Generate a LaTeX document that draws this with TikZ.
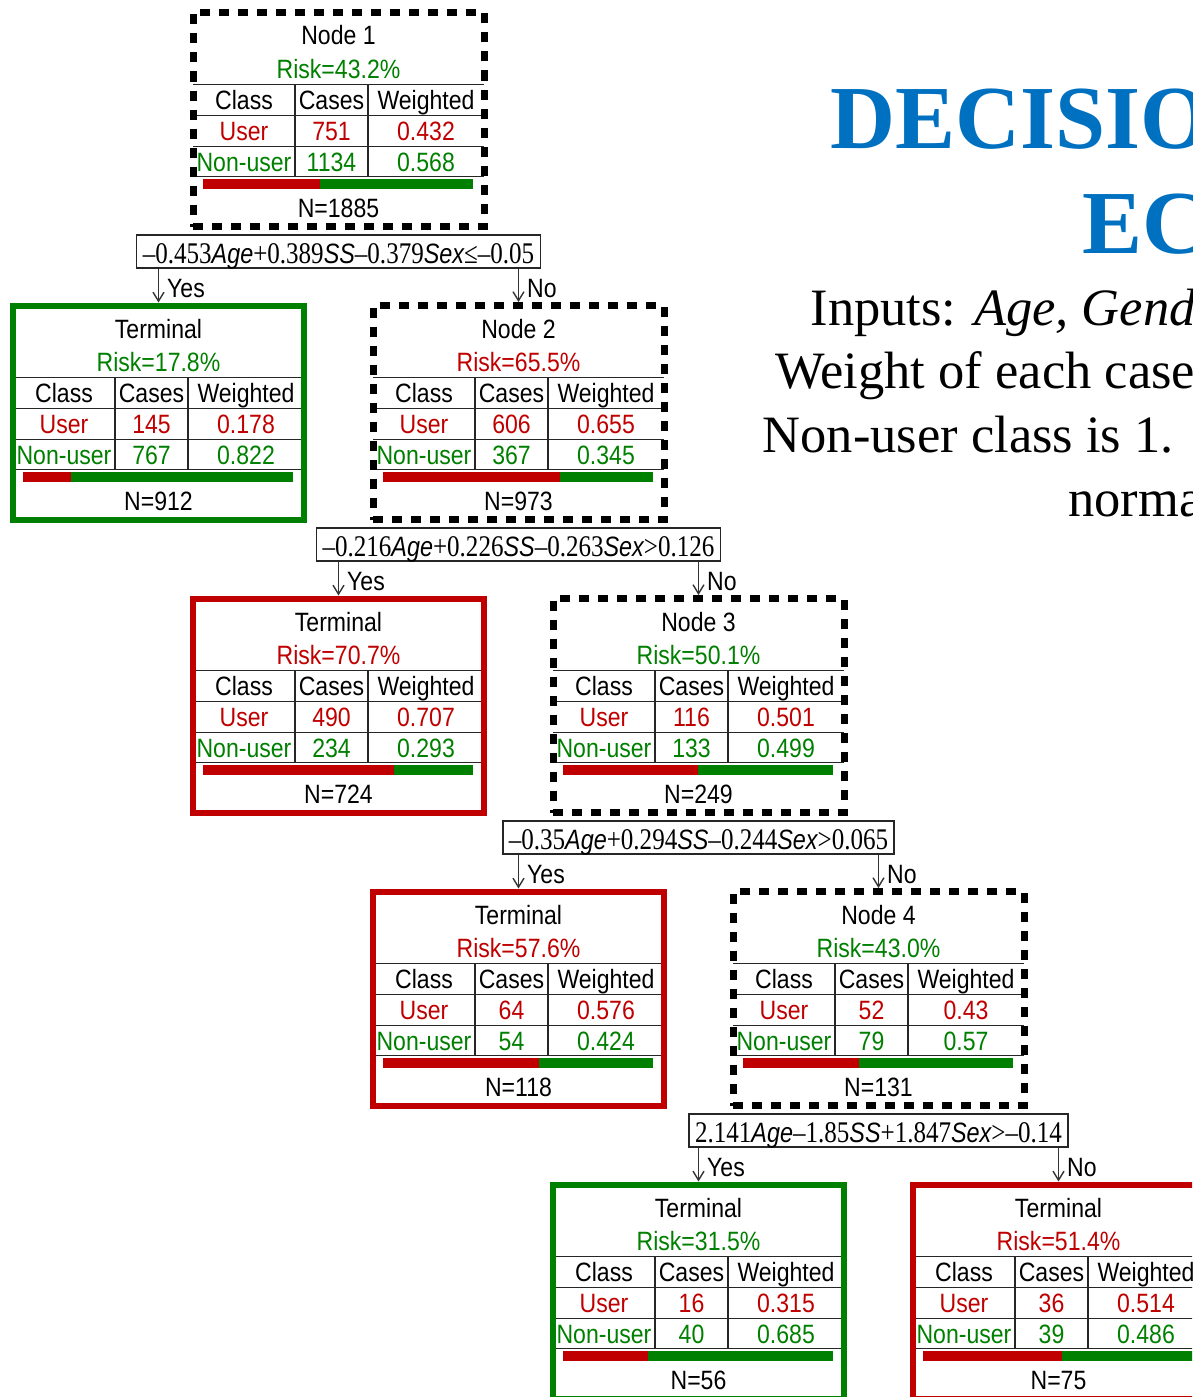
\documentclass[tikz,border=0pt]{standalone}
\usepackage{fontspec}
\usetikzlibrary{arrows.meta}
\setmainfont{Liberation Serif}
\newfontfamily\nodefont[FakeStretch=0.87]{Liberation Sans}
\newfontfamily\splitserif[FakeStretch=0.835]{Liberation Serif}
\newfontfamily\splitsans[FakeStretch=0.835]{Liberation Sans}
\newcommand\V[1]{{\splitsans\fontsize{28}{28}\selectfont\itshape #1}}
\definecolor{cred}{RGB}{192,0,0}
\definecolor{cgreen}{RGB}{0,128,0}
\definecolor{cblue}{RGB}{0,112,192}
\tikzset{
 bx/.style={font=\nodefont\fontsize{26.5}{26.5}\selectfont, inner sep=0pt, anchor=base},
 dashedbox/.style={draw=black, line width=7pt, dash pattern=on 10pt off 9pt},
 greenbox/.style={draw=cgreen, line width=6pt},
 redbox/.style={draw=cred, line width=6pt},
 tline/.style={line width=1.6pt, draw=black!85},
 splitbox/.style={draw=black!85, line width=1.4pt, fill=white, inner xsep=6pt, inner ysep=0pt,
   minimum height=33pt, text height=27pt, text depth=4pt, anchor=base,
   font=\splitserif\fontsize{30}{30}\selectfont},
 arr/.style={line width=1.4pt, draw=black!80, -{Straight Barb[length=9pt,width=11pt]}},
 yn/.style={font=\nodefont\fontsize{26.5}{26.5}\selectfont, inner sep=0pt, anchor=west, xshift=8pt, yshift=-3pt},
 bodytext/.style={font=\fontsize{52.5}{52.5}\selectfont, inner sep=0pt, anchor=base west},
 titletext/.style={font=\fontsize{90}{90}\selectfont\bfseries, text=cblue, inner sep=0pt, anchor=base west},
}
\newcommand\tdata[4]{%
  \node[bx, text=cred] (\curname-u1) at (51,127.5) {User};
  \node[bx, text=cred] (\curname-u2) at (138.5,127.5) {#1};
  \node[bx, text=cred] (\curname-u3) at (233,127.5) {#2};
  \node[bx, text=cgreen] (\curname-v1) at (51,159) {Non-user};
  \node[bx, text=cgreen] (\curname-v2) at (138.5,159) {#3};
  \node[bx, text=cgreen] (\curname-v3) at (233,159) {#4};
  \fill[cred] (10,166.5) rectangle ({10+270*#2},176.5);
  \fill[cgreen] ({10+270*#2},166.5) rectangle (280,176.5);
}
% name, x, y, style, title, risk colour, risk, N, {ucases}{uweight}{ncases}{nweight}
\newcommand\tbox[9]{%
 \def\curname{#1}%
 \begin{scope}[shift={(#2,#3)}]
  \node[bx] (#1-t) at (145.5,32.5) {#5};
  \node[bx, text=#6] (#1-r) at (145.5,65.5) {#7};
  \draw[tline] (0,72) -- (291,72) (0,103) -- (291,103) (0,134) -- (291,134) (0,164) -- (291,164)
     (102,72) -- (102,164) (175,72) -- (175,164);
  \node[bx] (#1-h1) at (51,97) {Class};
  \node[bx] (#1-h2) at (138.5,97) {Cases};
  \node[bx] (#1-h3) at (233,97) {Weighted};
  \tdata#9
  \node[bx] (#1-n) at (145.5,205) {N=#8};
  \node[#4, minimum width=291pt, minimum height=214pt, inner sep=0pt] (#1) at (145.5,107) {};
 \end{scope}}
\begin{document}
\begin{tikzpicture}[x=1pt,y=-1pt]
\useasboundingbox (0,0) rectangle (1192,1397);
\clip (0,0) rectangle (1192,1397);
\fill[white] (0,0) rectangle (1192,1397);

% title and description
\node[titletext] (ti1) at (830,148) {DECISIO};
\node[titletext] (ti2) at (1082,253) {EC};
\node[bodytext] (d1) at (810.5,325) {Inputs: \textit{Age, Gend}};
\node[bodytext] (d2) at (775,388.5) {Weight of each case};
\node[bodytext] (d3) at (762.5,452.5) {Non-user class is 1.};
\node[bodytext] (d4) at (1068,516.5) {norma};

% boxes
\tbox{n1}{193}{12.5}{dashedbox}{Node 1}{cgreen}{Risk=43.2\%}{1885}{{751}{0.432}{1134}{0.568}}
\tbox{t1}{13}{305.5}{greenbox}{Terminal}{cgreen}{Risk=17.8\%}{912}{{145}{0.178}{767}{0.822}}
\tbox{n2}{373}{305.5}{dashedbox}{Node 2}{cred}{Risk=65.5\%}{973}{{606}{0.655}{367}{0.345}}
\tbox{t2}{193}{598.5}{redbox}{Terminal}{cred}{Risk=70.7\%}{724}{{490}{0.707}{234}{0.293}}
\tbox{n3}{553}{598.5}{dashedbox}{Node 3}{cgreen}{Risk=50.1\%}{249}{{116}{0.501}{133}{0.499}}
\tbox{t3}{373}{891.5}{redbox}{Terminal}{cred}{Risk=57.6\%}{118}{{64}{0.576}{54}{0.424}}
\tbox{n4}{733}{891.5}{dashedbox}{Node 4}{cgreen}{Risk=43.0\%}{131}{{52}{0.43}{79}{0.57}}
\tbox{t4}{553}{1184.5}{greenbox}{Terminal}{cgreen}{Risk=31.5\%}{56}{{16}{0.315}{40}{0.685}}
\tbox{t5}{913}{1184.5}{redbox}{Terminal}{cred}{Risk=51.4\%}{75}{{36}{0.514}{39}{0.486}}

% splits
\node[splitbox] (s1) at (338.5,263) {–0.453\V{Age}+0.389\V{SS}–0.379\V{Sex}≤–0.05};
\node[splitbox] (s2) at (518.5,556) {–0.216\V{Age}+0.226\V{SS}–0.263\V{Sex}>0.126};
\node[splitbox] (s3) at (698.5,849) {–0.35\V{Age}+0.294\V{SS}–0.244\V{Sex}>0.065};
\node[splitbox] (s4) at (878.5,1142) {2.141\V{Age}–1.85\V{SS}+1.847\V{Sex}>–0.14};

% connectors
\draw[arr] (s1.south -| t1.north) -- node[yn] (y1) {Yes} (t1.north);
\draw[arr] (s1.south -| n2.north) -- node[yn] (o1) {No} (n2.north);
\draw[arr] (s2.south -| t2.north) -- node[yn] (y2) {Yes} (t2.north);
\draw[arr] (s2.south -| n3.north) -- node[yn] (o2) {No} (n3.north);
\draw[arr] (s3.south -| t3.north) -- node[yn] (y3) {Yes} (t3.north);
\draw[arr] (s3.south -| n4.north) -- node[yn] (o3) {No} (n4.north);
\draw[arr] (s4.south -| t4.north) -- node[yn] (y4) {Yes} (t4.north);
\draw[arr] (s4.south -| t5.north) -- node[yn] (o4) {No} (t5.north);
\end{tikzpicture}
\end{document}
